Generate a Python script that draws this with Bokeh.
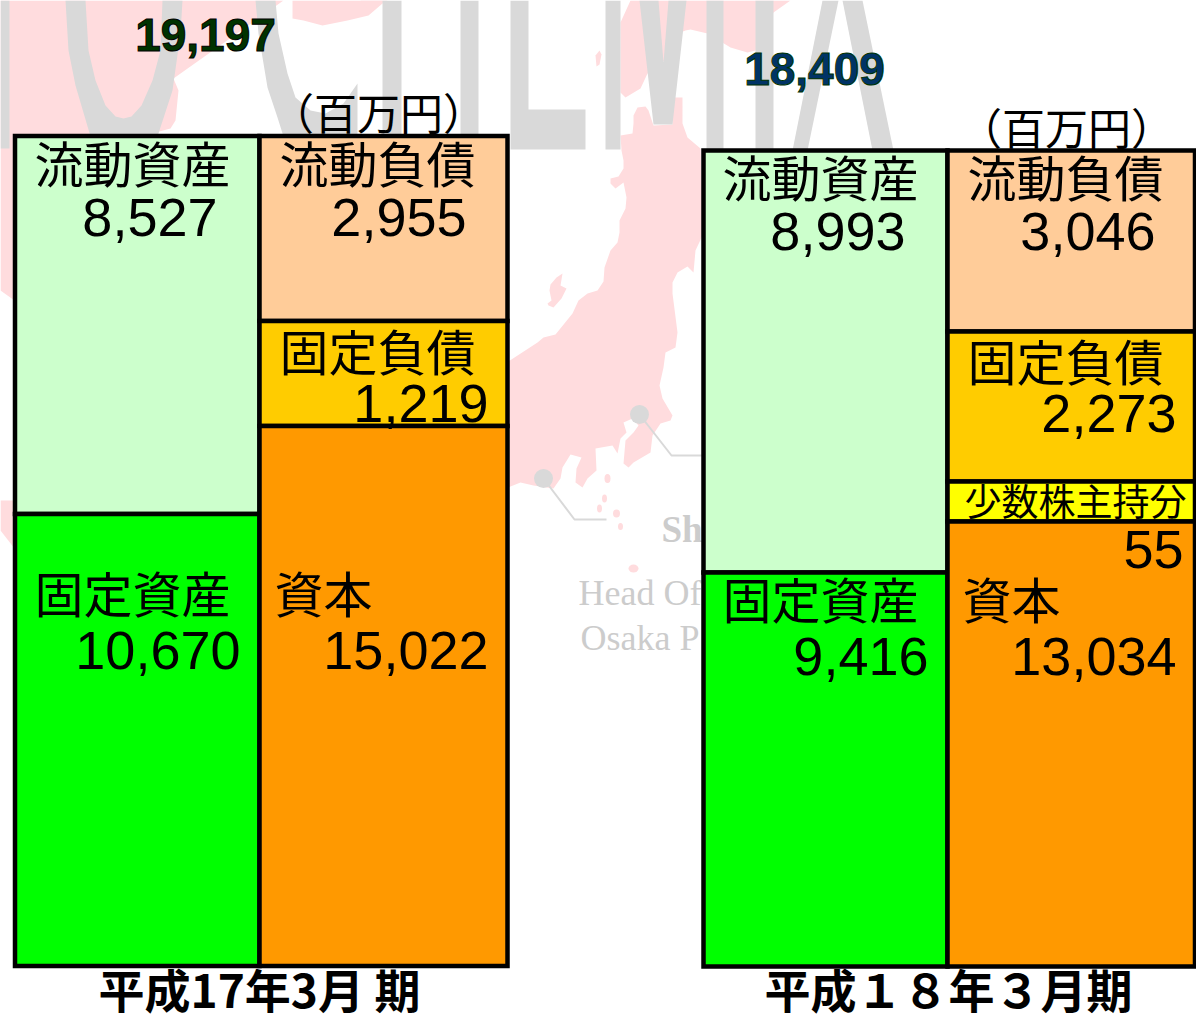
from bokeh.plotting import figure
from bokeh.models import Range1d
from bokeh.core.properties import value
from bokeh.embed import file_html
from bokeh.resources import INLINE
import numpy as np

# ---- data ----
periods = ["平成17年3月 期", "平成１８年３月期"]
totals = ["19,197", "18,409"]
unit = "（百万円）"

assets_names = ["流動資産", "固定資産"]
liab_names_17 = ["流動負債", "固定負債", "資本"]
liab_names_18 = ["流動負債", "固定負債", "少数株主持分", "資本"]

assets_17 = ["8,527", "10,670"]
liab_17 = ["2,955", "1,219", "15,022"]
assets_18 = ["8,993", "9,416"]
liab_18 = ["3,046", "2,273", "55", "13,034"]

# heights of the blocks as drawn (the original blocks are hand drawn, not to scale)
drawn_assets_17 = [378, 452]
drawn_liab_17 = [185, 105, 540]
drawn_assets_18 = [422, 394]
drawn_liab_18 = [181, 150, 40, 445]

# ---- style ----
C_CUR_ASSET = "#CCFFCC"
C_FIX_ASSET = "#00FF00"
C_CUR_LIAB = "#FFCC99"
C_FIX_LIAB = "#FFCC00"
C_MINOR = "#FFFF00"
C_EQUITY = "#FF9900"
PINK = "#FFDCDE"
GRAY = "#D9D9D9"
JP = value("Noto Sans CJK JP")
EN = value("Liberation Sans")

W, H = 1196, 1021
p = figure(width=W, height=H, output_backend="svg", toolbar_location=None,
           x_range=Range1d(0, W), y_range=Range1d(H, 0),
           min_border=0, outline_line_color=None, background_fill_color="white")
p.axis.visible = False
p.grid.visible = False

# ---- washed-out backdrop picture ----
land = [
    [(0,0),(283,0),(173,78),(178,90),(175,120),(170,128),(140,136),(14,300),(0,290)],
    [(292,0),(292,18),(303,20),(322,25),(347,20),(368,15),(382,3),(387,0)],
    [(360,0),(382,0),(370,12)],
    [(0,500),(14,500),(14,548),(0,530)],
    [(630,0),(790,0),(773,12),(755,50),(747,52),(730,47),(707,33),(690,29),(685,30),(667,37),
     (664,60),(647,73),(640,88),(625,97),(620,92),(620,22)],
    [(620,135),(632,133),(633,123),(633,115),(637,107),(645,106),(648,110),(653,125),(672,124),
     (682,123),(682,97),(672,97),(672,124),(682,123),(687,137),(700,148),(703,233),(695,250),
     (693,272),(687,266),(677,272),(672,282),(672,293),(677,332),(675,347),(665,352),(663,367),
     (659,385),(662,398),(672,415),(670,420),(660,423),(652,435),(650,452),(633,462),(628,467),
     (623,463),(625,440),(633,432),(638,425),(632,418),(623,422),(626,432),(620,438),(617,453),
     (612,445),(595,448),(596,470),(587,478),(582,487),(575,482),(576,468),(581,457),(570,454),
     (562,467),(560,478),(553,488),(533,485),(520,482),(500,490),(500,366),(537,342),(543,337),
     (555,334),(572,313),(578,300),(587,293),(597,290),(603,281),(604,267),(610,250),(617,242),
     (619,232),(619,220),(625,208),(626,197),(623,182),(615,188),(610,183),(610,178),(618,176),
     (623,168),(623,160),(621,150)],
    [(562,273),(560,285),(566,288),(561,298),(553,307),(548,305),(547,303),(551,300),(549,290),(550,284),(556,277)],
    [(595,55),(599,50),(601,54),(599,64),(596,66)],
]
p.patches([[a for a, b in s] for s in land], [[b for a, b in s] for s in land],
          fill_color=PINK, line_color=None)
p.ellipse([607, 604, 599, 616, 620, 633], [478, 498, 508, 513, 526, 568],
          width=[6, 5, 5, 7, 5, 10], height=[9, 8, 8, 8, 7, 8], fill_color=PINK, line_color=None)

letters = [
    [(0,0),(9,0),(9,148),(0,148)],
    [(65,0),(85,0),(88,50),(95,80),(105,105),(115,116),(123,118),(131,116),(141,105),(152,80),(160,50),
     (162,0),(182,0),(180,33),(172,90),(157,136),(90,136),(75,85),(68,50)],
    [(255,0),(275,0),(278,33),(287,73),(295,97),(310,110),(325,113),(343,103),(357,83),(357,136),
     (283,136),(277,117),(267,87),(258,33)],
    [(382,0),(401,0),(401,136),(382,136)],
    [(460,0),(478,0),(478,136),(460,136)],
    [(510,0),(528,0),(528,109),(585,109),(585,149),(510,149)],
    [(605,0),(620,0),(620,149),(605,149)],
    [(639,0),(658,0),(663,62),(668,0),(686,0),(672,124),(653,124)],
    [(706,0),(723,0),(723,150),(706,150)],
    [(755,0),(773,0),(773,150),(755,150)],
    [(792,150),(822,0),(838,0),(807,150)],
    [(842,0),(862,0),(893,150),(872,150)],
]
p.patches([[a for a, b in s] for s in letters], [[b for a, b in s] for s in letters],
          fill_color=GRAY, line_color=None)

p.line([639, 671, 703], [414, 455, 455], line_color=GRAY, line_width=2)
p.line([543, 574, 606], [478, 519, 519], line_color=GRAY, line_width=2)
p.scatter([639, 543], [414, 478], size=19, marker="circle", fill_color=GRAY, line_color=None)
p.text([661], [529], text=["Sh"], text_font=value("Liberation Serif"), text_font_size="37px",
       text_font_style="bold", text_color="#CCCCCC", text_baseline="middle")
p.text([578, 580], [592, 637], text=["Head Of", "Osaka P"], text_font=value("Liberation Serif"),
       text_font_size="36px", text_color="#CCCCCC", text_baseline="middle")

# ---- stacked blocks ----
def stack(x0, x1, top, heights, colors):
    edges = top + np.concatenate([[0], np.cumsum(heights)])
    p.quad(left=x0, right=x1, top=edges[:-1], bottom=edges[1:], fill_color=colors,
           line_color="black", line_width=4.5, line_join="miter")

stack(14.5, 259, 135.5, drawn_assets_17, [C_CUR_ASSET, C_FIX_ASSET])
stack(259, 507, 135.5, drawn_liab_17, [C_CUR_LIAB, C_FIX_LIAB, C_EQUITY])
stack(703, 947, 150, drawn_assets_18, [C_CUR_ASSET, C_FIX_ASSET])
stack(947, 1194.5, 150, drawn_liab_18, [C_CUR_LIAB, C_FIX_LIAB, C_MINOR, C_EQUITY])

# ---- block names ----
def names(xs, ys, labels, size="49px"):
    p.text(xs, ys, text=labels, text_font=JP, text_font_size=size, text_color="black",
           text_align="center", text_baseline="middle")

names([132, 132], [161, 591], assets_names)
names([377, 377, 323], [161, 349, 591], liab_names_17)
names([820, 820], [175, 597], assets_names)
names([1065, 1065, 1011], [175, 359, 597], [liab_names_18[0], liab_names_18[1], liab_names_18[3]])
names([1075], [499], [liab_names_18[2]], size="37px")

# ---- block values ----
def numbers(xs, ys, labels):
    p.text(xs, ys, text=labels, text_font=EN, text_font_size="54px", text_color="black",
           text_align="right", text_baseline="middle")

numbers([217, 240], [217, 650], assets_17)
numbers([466, 488, 488], [217, 403, 650], liab_17)
numbers([905, 928], [231, 656], assets_18)
numbers([1155, 1176, 1183, 1176], [231, 413, 549, 656], liab_18)

# ---- totals, unit, period captions ----
p.text([205], [34], text=[totals[0]], text_font=EN, text_font_size="46px", text_font_style="bold",
       text_align="center", text_color="#003300", text_outline_color="black", text_baseline="middle")
p.text([814], [68], text=[totals[1]], text_font=EN, text_font_size="46px", text_font_style="bold",
       text_align="center", text_color="#003366", text_outline_color="#003300", text_baseline="middle")
p.text([378, 1066], [110, 125], text=[unit, unit], text_font=JP, text_font_size="43px",
       text_color="black", text_align="center", text_baseline="middle")
p.text([259, 948], [987, 987], text=periods, text_font=JP, text_font_size="46px", text_font_style="bold",
       text_color="black", text_align="center", text_baseline="middle")

open("out.html", "w").write(file_html(p, INLINE))
